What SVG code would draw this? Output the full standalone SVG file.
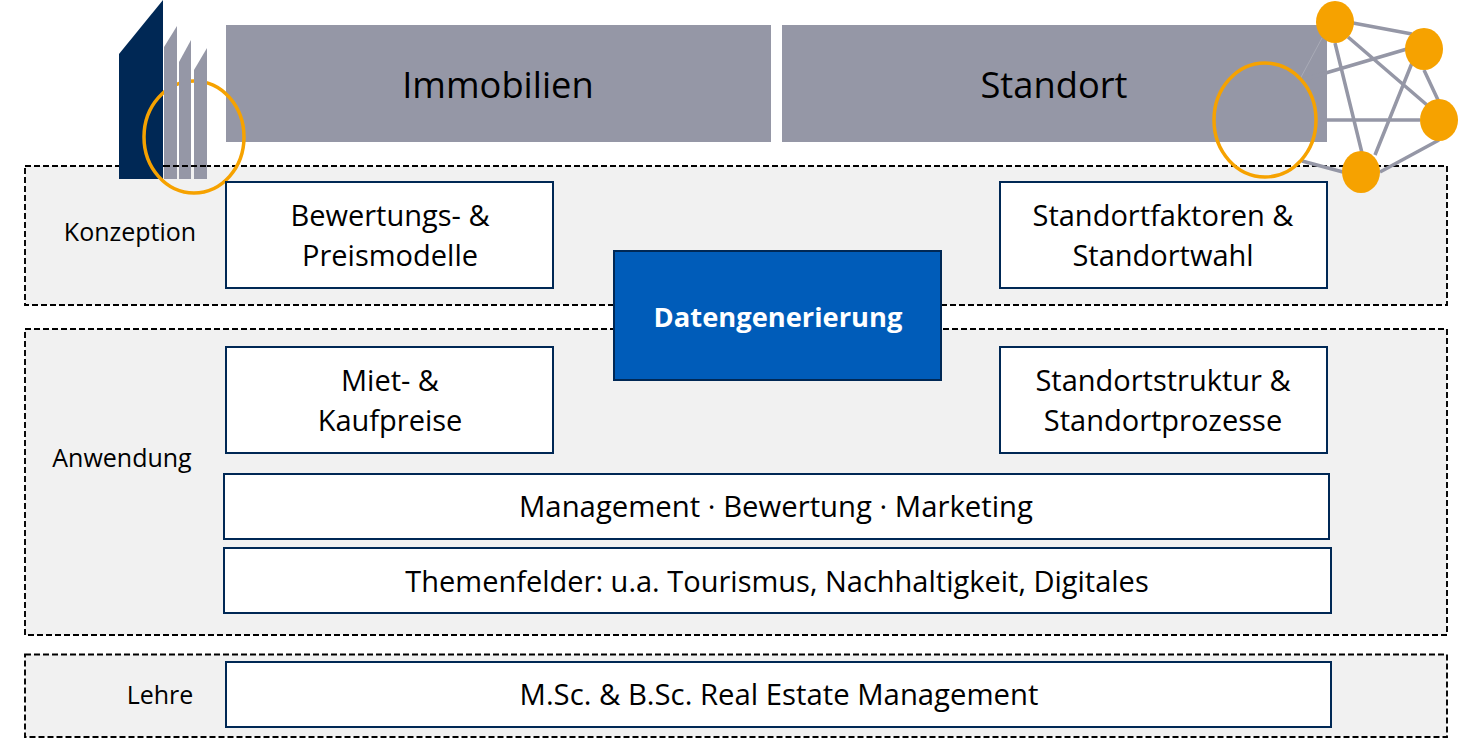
<svg xmlns="http://www.w3.org/2000/svg" width="1458" height="738" viewBox="0 0 1458 738">
<style>
text{font-family:"Open Sans","Noto Sans","Liberation Sans",sans-serif;fill:#000;text-anchor:middle}
.band{fill:#f1f1f1;stroke:#000;stroke-width:1.9;stroke-dasharray:6 3}
.box{fill:#fff;stroke:#002855;stroke-width:2}
.head{fill:#9597a6}
.t{font-size:29px}
.w{font-size:29.3px}
.h{font-size:36.3px}
.l{font-size:25px}
.edge{stroke:#9597a6;stroke-width:3.5;fill:none}
.dot{fill:#f6a200}
.ring{fill:none;stroke:#f6a200;stroke-width:3.5}
</style>
<g id="band-konzeption"><rect class="band" x="25" y="166" width="1422" height="139"/><text class="l" x="130" y="241">Konzeption</text></g>
<g id="band-anwendung"><rect class="band" x="25" y="329" width="1422" height="306"/><text class="l" x="122" y="467">Anwendung</text></g>
<g id="band-lehre"><rect class="band" x="25" y="654.5" width="1422" height="82.5"/><text class="l" x="160" y="704">Lehre</text></g>
<g id="head-immobilien"><rect class="head" x="226" y="25" width="545" height="117"/><text class="h" x="498" y="98">Immobilien</text></g>
<g id="head-standort"><rect class="head" x="782" y="25" width="545" height="117"/><text class="h" x="1054" y="98">Standort</text></g>
<g id="building">
<polygon points="119,54 163,0 163,179 119,179" fill="#002855"/>
<ellipse class="ring" cx="194" cy="137" rx="50" ry="56"/>
<polygon class="head" points="164,47 177,26 177,179 164,179"/>
<polygon class="head" points="179,62 191,40 191,179 179,179"/>
<polygon class="head" points="194,70 207,48 207,179 194,179"/>
<path d="M164 166H207" stroke="#000" stroke-width="1.9" stroke-dasharray="6 3"/>
</g>
<g id="connectors">
<path class="edge" d="M1353 23L1412 34M1348 37L1427 105M1335 43L1362 153M1412 63L1375 155M1424 70L1438 100M1439 140L1380 172M1407 49L1302 80M1420 120L1316 120M1343 172L1302 161"/>
<path d="M1322 38L1300 79" stroke="#a9abb7" stroke-width="1"/>
</g>
<g id="network-nodes">
<ellipse class="dot" cx="1335" cy="22" rx="19" ry="21"/>
<ellipse class="dot" cx="1424" cy="49" rx="19" ry="21"/>
<ellipse class="dot" cx="1439" cy="120" rx="19" ry="21"/>
<ellipse class="dot" cx="1361" cy="172" rx="19" ry="21"/>
<ellipse class="ring" cx="1265" cy="120" rx="51" ry="57"/>
</g>
<g id="box-bewertung"><rect class="box" x="226" y="182" width="327" height="106"/><text class="t" x="390" y="226">Bewertungs- &amp;</text><text class="t" x="390" y="266">Preismodelle</text></g>
<g id="box-faktoren"><rect class="box" x="1000" y="182" width="327" height="106"/><text class="t" x="1163" y="226">Standortfaktoren &amp;</text><text class="t" x="1163" y="266">Standortwahl</text></g>
<g id="box-daten"><rect x="614" y="251" width="327" height="129" fill="#005cb9" stroke="#002855" stroke-width="2"/><text x="778" y="327" font-size="27.3" font-weight="700" style="fill:#fff">Datengenerierung</text></g>
<g id="box-miet"><rect class="box" x="226" y="347" width="327" height="106"/><text class="t" x="390" y="391">Miet- &amp;</text><text class="t" x="390" y="431">Kaufpreise</text></g>
<g id="box-struktur"><rect class="box" x="1000" y="347" width="327" height="106"/><text class="t" x="1163" y="391">Standortstruktur &amp;</text><text class="t" x="1163" y="431">Standortprozesse</text></g>
<g id="box-management"><rect class="box" x="224" y="474" width="1105" height="65"/><text class="w" x="776" y="517">Management · Bewertung · Marketing</text></g>
<g id="box-themen"><rect class="box" x="224" y="548" width="1107" height="65"/><text class="t" x="777" y="592">Themenfelder: u.a. Tourismus, Nachhaltigkeit, Digitales</text></g>
<g id="box-msc"><rect class="box" x="226" y="662" width="1105" height="65"/><text class="w" x="779" y="705">M.Sc. &amp; B.Sc. Real Estate Management</text></g>
</svg>
